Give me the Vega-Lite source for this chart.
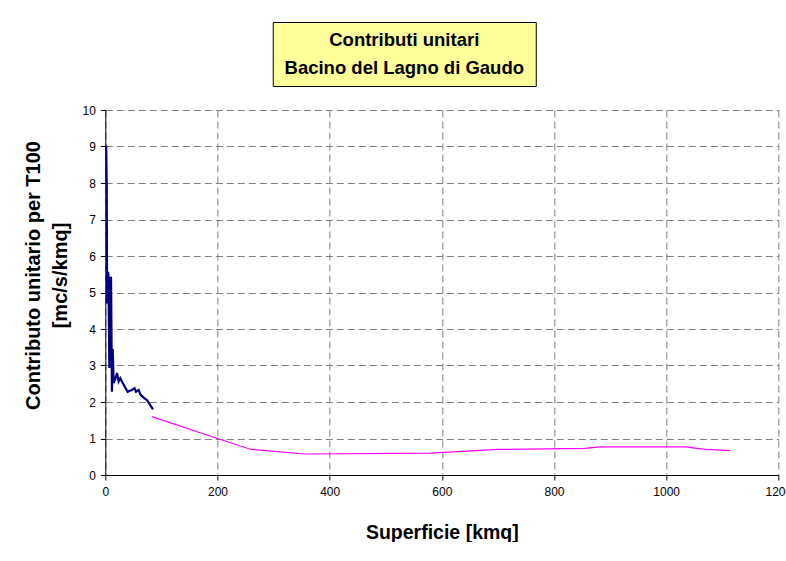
{
  "$schema": "https://vega.github.io/schema/vega-lite/v6.json",
  "background": "white",
  "padding": {"left": 23, "top": 21, "right": 0, "bottom": 0},
  "spacing": 17,
  "center": true,
  "config": {
    "font": "Liberation Sans",
    "view": {"stroke": null}
  },
  "vconcat": [
    {
      "width": 263,
      "height": 64,
      "view": {"fill": "#FFFF99", "stroke": "#000000", "strokeWidth": 1},
      "data": {"values": [
        {"riga": 1, "testo": "Contributi unitari"},
        {"riga": 2, "testo": "Bacino del Lagno di Gaudo"}
      ]},
      "mark": {"type": "text", "font": "Liberation Sans", "fontWeight": "bold", "fontSize": 18.5, "color": "#000000", "baseline": "middle", "align": "center"},
      "encoding": {
        "y": {
          "field": "riga", "type": "ordinal",
          "scale": {"type": "point", "padding": 0.68},
          "axis": {"orient": "right", "labels": false, "ticks": false, "domain": false, "grid": false, "title": null, "minExtent": 88, "maxExtent": 88}
        },
        "text": {"field": "testo", "type": "nominal"}
      }
    },
    {
      "width": 673,
      "height": 365,
      "data": {"values": [
        {"serie": "blu", "sup": 0.5, "contr": 8.1},
        {"serie": "blu", "sup": 1.5, "contr": 9.03},
        {"serie": "blu", "sup": 2.5, "contr": 8.0},
        {"serie": "blu", "sup": 3.2, "contr": 4.7},
        {"serie": "blu", "sup": 4.6, "contr": 5.57},
        {"serie": "blu", "sup": 5.5, "contr": 5.5},
        {"serie": "blu", "sup": 7.2, "contr": 2.93},
        {"serie": "blu", "sup": 9.5, "contr": 5.43},
        {"serie": "blu", "sup": 10.2, "contr": 5.4},
        {"serie": "blu", "sup": 11.8, "contr": 2.28},
        {"serie": "blu", "sup": 13.2, "contr": 3.45},
        {"serie": "blu", "sup": 14.8, "contr": 2.52},
        {"serie": "blu", "sup": 17.0, "contr": 2.6},
        {"serie": "blu", "sup": 20.9, "contr": 2.79},
        {"serie": "blu", "sup": 23.7, "contr": 2.56},
        {"serie": "blu", "sup": 26.7, "contr": 2.65},
        {"serie": "blu", "sup": 30.0, "contr": 2.55},
        {"serie": "blu", "sup": 39.8, "contr": 2.28},
        {"serie": "blu", "sup": 47.0, "contr": 2.33},
        {"serie": "blu", "sup": 52.2, "contr": 2.38},
        {"serie": "blu", "sup": 54.7, "contr": 2.28},
        {"serie": "blu", "sup": 59.4, "contr": 2.33},
        {"serie": "blu", "sup": 62.0, "contr": 2.22},
        {"serie": "blu", "sup": 65.4, "contr": 2.16},
        {"serie": "blu", "sup": 70.0, "contr": 2.1},
        {"serie": "blu", "sup": 74.4, "contr": 2.05},
        {"serie": "blu", "sup": 85.0, "contr": 1.8},
        {"serie": "rosa", "sup": 83, "contr": 1.6},
        {"serie": "rosa", "sup": 200, "contr": 1.0},
        {"serie": "rosa", "sup": 260, "contr": 0.7},
        {"serie": "rosa", "sup": 355, "contr": 0.575},
        {"serie": "rosa", "sup": 580, "contr": 0.6},
        {"serie": "rosa", "sup": 700, "contr": 0.7},
        {"serie": "rosa", "sup": 855, "contr": 0.73},
        {"serie": "rosa", "sup": 882, "contr": 0.77},
        {"serie": "rosa", "sup": 1035, "contr": 0.77},
        {"serie": "rosa", "sup": 1070, "contr": 0.7},
        {"serie": "rosa", "sup": 1115, "contr": 0.67}
      ]},
      "mark": {"type": "line", "clip": true},
      "encoding": {
        "x": {
          "field": "sup", "type": "quantitative",
          "scale": {"domain": [0, 1200], "nice": false},
          "axis": {
            "title": "Superficie [kmq]",
            "values": [0, 200, 400, 600, 800, 1000, 1200],
            "format": "d",
            "labelFont": "Liberation Sans", "labelFontSize": 12, "labelColor": "#000000",
            "labelPadding": 6, "labelFlush": false, "labelOverlap": false,
            "tickSize": 5, "tickColor": "#000000", "domainColor": "#000000", "domainWidth": 1,
            "grid": true, "gridColor": "#808080", "gridDash": [7, 4], "gridWidth": 1,
            "titleFont": "Liberation Sans", "titleFontSize": 19.5, "titleFontWeight": "bold", "titleColor": "#000000",
            "titleY": 63, "titleBaseline": "alphabetic"
          }
        },
        "y": {
          "field": "contr", "type": "quantitative",
          "scale": {"domain": [0, 10], "nice": false},
          "axis": {
            "title": ["Contributo unitario per T100", "[mc/s/kmq]"],
            "values": [0, 1, 2, 3, 4, 5, 6, 7, 8, 9, 10],
            "labelFont": "Liberation Sans", "labelFontSize": 12, "labelColor": "#000000",
            "labelPadding": 5, "labelFlush": false, "labelOverlap": false,
            "tickSize": 5, "tickColor": "#000000", "domainColor": "#000000", "domainWidth": 1,
            "grid": true, "gridColor": "#808080", "gridDash": [7, 4], "gridWidth": 1,
            "titleFont": "Liberation Sans", "titleFontSize": 20, "titleFontWeight": "bold", "titleColor": "#000000",
            "titleLineHeight": 27, "titlePadding": 11, "titleY": 165
          }
        },
        "color": {
          "field": "serie", "type": "nominal",
          "scale": {"domain": ["blu", "rosa"], "range": ["#000080", "#FF00FF"]},
          "legend": null
        },
        "strokeWidth": {
          "field": "serie", "type": "nominal",
          "scale": {"domain": ["blu", "rosa"], "range": [2.2, 1.2]},
          "legend": null
        }
      }
    }
  ]
}
